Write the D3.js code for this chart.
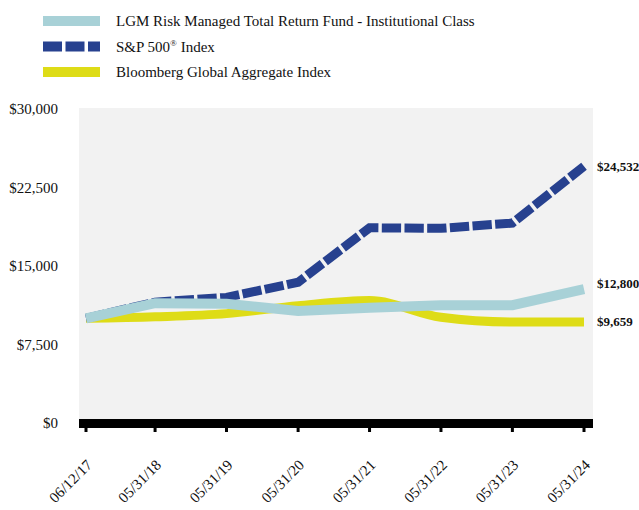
<!DOCTYPE html>
<html>
<head>
<meta charset="utf-8" />
<script src="https://cdn.jsdelivr.net/npm/d3@7"></script>
<style>
  body {
    margin: 0;
    background: #fff;
  }
  svg text {
    font-family: 'Liberation Serif', 'Times New Roman', serif;
    fill: #111;
  }
</style>
</head>
<body>
<div id="wrapper"></div>
<script>
// ---------------------------------------------------
// 1. DATA
// ---------------------------------------------------
const dates = [
  '06/12/17',
  '05/31/18',
  '05/31/19',
  '05/31/20',
  '05/31/21',
  '05/31/22',
  '05/31/23',
  '05/31/24',
]
const fundValues = [10000, 11450, 11400, 10700, 11000, 11250, 11250, 12800]
const sp500Values = [10000, 11550, 12000, 13450, 18650, 18600, 19100, 24532]
const bloombergValues = [10000, 10150, 10450, 11200, 11700, 10100, 9650, 9659]
const yTicks = [0, 7500, 15000, 22500, 30000]
const seriesNames = [
  'LGM Risk Managed Total Return Fund - Institutional Class',
  'S&P 500',
  'Bloomberg Global Aggregate Index',
]
const endLabels = ['$12,800', '$24,532', '$9,659']

const parseDate = d3.timeParse('%m/%d/%y')

// ---------------------------------------------------
// 2. DIMENSIONS
// ---------------------------------------------------
const dimensions = {
  width: 639,
  height: 510,
  margin: { top: 108, right: 46, bottom: 87, left: 79 },
}
dimensions.boundedWidth =
  dimensions.width - dimensions.margin.left - dimensions.margin.right
dimensions.boundedHeight =
  dimensions.height - dimensions.margin.top - dimensions.margin.bottom

// ---------------------------------------------------
// 3. CANVAS
// ---------------------------------------------------
const svg = d3
  .select('#wrapper')
  .append('svg')
  .attr('width', dimensions.width)
  .attr('height', dimensions.height)

const bounds = svg
  .append('g')
  .attr(
    'transform',
    `translate(${dimensions.margin.left}, ${dimensions.margin.top})`
  )

// ---------------------------------------------------
// 4. SCALES
// ---------------------------------------------------
const xScale = d3
  .scaleTime()
  .domain(d3.extent(dates, parseDate))
  .range([7, dimensions.boundedWidth - 9])

const yScale = d3
  .scaleLinear()
  .domain([0, 30000])
  .range([315, 1])

// ---------------------------------------------------
// 5. BACKGROUND + AXES
// ---------------------------------------------------
bounds
  .append('rect')
  .attr('width', dimensions.boundedWidth)
  .attr('height', dimensions.boundedHeight)
  .attr('fill', '#f2f2f2')

// y tick labels
bounds
  .append('g')
  .selectAll('text')
  .data(yTicks)
  .join('text')
  .attr('x', -21)
  .attr('y', (d) => yScale(d))
  .attr('dy', '0.35em')
  .attr('text-anchor', 'end')
  .attr('font-size', 15)
  .text((d) => '$' + d3.format(',')(d))

// thick black base band
bounds
  .append('rect')
  .attr('x', 0)
  .attr('y', yScale(0) - 4)
  .attr('width', dimensions.boundedWidth)
  .attr('height', 9)
  .attr('fill', '#000')

// ticks + rotated date labels
const xAxis = bounds.append('g')
xAxis
  .selectAll('rect')
  .data(dates)
  .join('rect')
  .attr('x', (d) => xScale(parseDate(d)) - 1.5)
  .attr('y', yScale(0) + 4)
  .attr('width', 3)
  .attr('height', 5)
  .attr('fill', '#000')

xAxis
  .selectAll('text')
  .data(dates)
  .join('text')
  .attr('font-size', 15)
  .attr('text-anchor', 'end')
  .attr(
    'transform',
    (d) => `translate(${xScale(parseDate(d)) + 7}, ${yScale(0) + 43}) rotate(-45)`
  )
  .text((d) => d)

// ---------------------------------------------------
// 6. LINES
// ---------------------------------------------------
const lineStraight = d3
  .line()
  .x((d, i) => xScale(parseDate(dates[i])))
  .y((d) => yScale(d))

const lineSmooth = d3
  .line()
  .x((d, i) => xScale(parseDate(dates[i])))
  .y((d) => yScale(d))
  .curve(d3.curveMonotoneX)

bounds
  .append('path')
  .datum(bloombergValues)
  .attr('d', lineSmooth)
  .attr('fill', 'none')
  .attr('stroke', '#dedc17')
  .attr('stroke-width', 9)

bounds
  .append('path')
  .datum(sp500Values)
  .attr('d', lineStraight)
  .attr('fill', 'none')
  .attr('stroke', '#27418f')
  .attr('stroke-width', 9)
  .attr('stroke-dasharray', '19.3,3.4')

bounds
  .append('path')
  .datum(fundValues)
  .attr('d', lineStraight)
  .attr('fill', 'none')
  .attr('stroke', '#a8d1d7')
  .attr('stroke-width', 10)

// end value labels
const lastX = xScale(parseDate(dates[dates.length - 1]))
const endValues = [
  fundValues[fundValues.length - 1],
  sp500Values[sp500Values.length - 1],
  bloombergValues[bloombergValues.length - 1],
]
bounds
  .append('g')
  .selectAll('text')
  .data(endLabels)
  .join('text')
  .attr('x', lastX + 13)
  .attr('y', (d, i) => yScale(endValues[i]) + (i === 0 ? -6 : 0))
  .attr('dy', '0.35em')
  .attr('font-size', 13)
  .attr('font-weight', 'bold')
  .text((d) => d)

// ---------------------------------------------------
// 7. LEGEND
// ---------------------------------------------------
const legend = svg.append('g')
const legendRows = legend
  .selectAll('g')
  .data(seriesNames)
  .join('g')
  .attr('transform', (d, i) => `translate(43, ${21 + i * 25.5})`)

legendRows
  .append('line')
  .attr('x1', 0)
  .attr('x2', 57)
  .attr('stroke-width', 10)
  .attr('stroke', (d, i) => ['#a8d1d7', '#27418f', '#dedc17'][i])
  .attr('stroke-dasharray', (d, i) => (i === 1 ? '19,3.5' : null))

const legendText = legendRows
  .append('text')
  .attr('x', 73)
  .attr('y', 5)
  .attr('font-size', 15)

legendText.text((d, i) => (i === 1 ? null : d))
legendText
  .filter((d, i) => i === 1)
  .call((t) => {
    t.append('tspan').text('S&P 500')
    t.append('tspan').attr('font-size', 9).attr('dy', -6).text('®')
    t.append('tspan').attr('dy', 6).text(' Index')
  })
</script>
</body>
</html>
